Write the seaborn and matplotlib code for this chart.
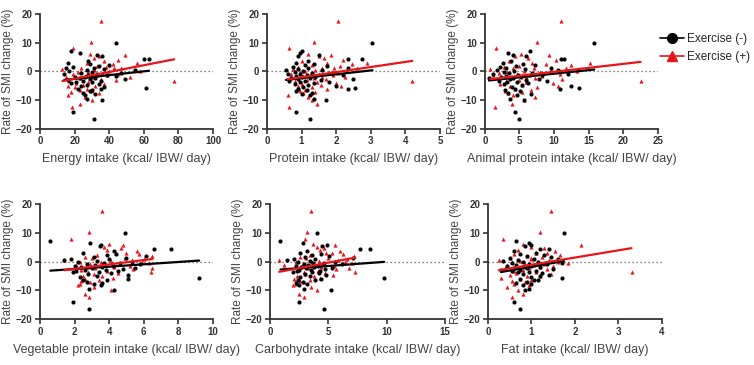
import numpy as np
import pandas as pd
import seaborn as sns
import matplotlib.pyplot as plt
from matplotlib.lines import Line2D

# rate of SMI change (%) per subject, same subjects in every panel
smi_ex_neg = [9.8, 7.2, 6.3, 5.8, 5.5, 4.3, 4.2, 3.5, 3.0, 2.6, 2.2, 1.8, 1.5, 1.2, 1.0, 0.8, 0.5, 0.3, 0.0,
              -0.2, -0.4, -0.6, -0.8, -1.0, -1.2, -1.4, -1.6, -1.8, -2.0, -2.2, -2.4, -2.6, -2.8, -3.0, -3.2,
              -3.4, -3.6, -3.8, -4.0, -4.3, -4.6, -5.0, -5.3, -5.8, -6.0, -6.3, -6.6, -7.0, -7.4, -7.8, -8.2,
              -9.5, -9.9, -14.2, -16.6]
smi_ex_pos = [17.5, 10.3, 8.0, 6.0, 5.7, 5.2, 4.6, 4.0, 3.5, 3.0, 2.8, 2.6, 2.2, 1.9, 1.6, 1.3, 1.1, 1.0, 0.7,
              0.4, 0.2, 0.0, -0.2, -0.3, -0.5, -0.8, -1.0, -1.1, -1.3, -1.6, -1.9, -2.0, -2.1, -2.4, -2.7,
              -3.0, -3.3, -3.5, -3.8, -4.1, -4.4, -4.8, -5.0, -5.2, -5.6, -6.0, -6.4, -6.8, -7.2, -7.7, -8.3,
              -8.8, -10.0, -11.4, -12.5]

# intakes (kcal/ IBW/ day)
energy_neg = [44, 18, 23, 33, 36, 60, 63, 28, 16, 29, 40, 34, 19, 31, 15, 37, 27, 55, 17,
              30, 47, 24, 33, 14, 28, 39, 44, 20, 26, 32, 23, 29, 49, 16, 35,
              25, 30, 21, 18, 34, 27, 24, 37, 61, 22, 35, 30, 29, 25, 32, 26,
              27, 36, 19, 31]
energy_pos = [35.5, 29.5, 19, 29, 49, 34, 31, 45, 37, 56, 27, 42, 40, 33, 38, 47, 24, 43, 13,
              31, 40, 58, 28, 22, 36, 45, 19, 33, 39, 26, 30, 15, 52, 23, 35,
              44, 17, 77.5, 28, 21, 37, 25, 16, 32, 20, 27, 23, 30, 18, 34, 16,
              26, 30, 23, 18.5]
protein_neg = [3.05, 1.0, 0.95, 1.5, 0.9, 2.35, 2.75, 1.2, 0.85, 1.35, 1.1, 1.75, 0.75, 2.35, 1.2, 0.9, 1.6, 0.55, 1.05,
               0.8, 1.3, 1.9, 0.95, 0.6, 1.15, 2.2, 0.85, 1.4, 1.0, 0.7, 1.25, 2.5, 0.9, 1.55, 1.1,
               0.65, 1.8, 0.95, 1.35, 0.8, 1.2, 2.0, 1.05, 2.55, 0.9, 2.35, 1.15, 0.85, 1.3, 1.0, 1.25,
               1.35, 1.7, 0.85, 1.25]
protein_pos = [2.05, 1.35, 0.65, 1.2, 1.85, 1.5, 1.65, 2.2, 1.0, 2.9, 1.75, 2.45, 1.3, 2.1, 0.9, 2.6, 1.6, 1.95, 0.75,
               1.4, 2.3, 1.1, 1.8, 0.95, 2.05, 1.5, 0.7, 1.25, 1.9, 1.05, 1.6, 0.85, 2.25, 1.35, 1.7,
               1.15, 0.8, 4.2, 1.45, 2.0, 1.0, 1.55, 2.15, 0.9, 1.3, 1.75, 1.1, 0.95, 1.4, 1.05, 0.6,
               1.2, 1.3, 1.45, 0.65]
animal_neg = [15.8, 6.5, 3.3, 4.0, 6.0, 11.0, 11.4, 3.8, 2.6, 5.5, 7.2, 4.5, 2.2, 9.5, 3.0, 5.8, 10.6, 1.8, 4.2,
              2.8, 6.8, 3.5, 12.0, 1.2, 4.8, 8.2, 3.1, 5.2, 2.4, 0.6, 4.1, 7.8, 3.6, 5.9, 2.0,
              9.0, 4.6, 3.2, 6.3, 2.7, 5.4, 12.5, 3.9, 13.6, 4.3, 10.9, 2.9, 5.1, 3.4, 6.7, 4.7,
              3.7, 5.6, 4.4, 5.0]
animal_pos = [11.0, 7.5, 1.6, 5.2, 9.2, 4.3, 6.2, 10.3, 3.5, 15.2, 6.8, 8.9, 12.4, 5.0, 2.7, 11.8, 7.1, 4.0, 0.8,
              9.6, 5.6, 13.3, 3.2, 7.9, 2.1, 10.8, 4.6, 6.4, 1.2, 8.3, 3.8, 5.9, 2.4, 7.3, 11.2,
              4.9, 3.0, 22.5, 6.0, 9.8, 2.2, 5.3, 10.5, 3.6, 7.6, 4.4, 6.6, 2.9, 5.4, 3.4, 4.1,
              7.2, 5.7, 3.9, 1.4]
vegetable_neg = [4.9, 0.6, 2.9, 3.5, 3.45, 6.6, 7.6, 4.3, 2.5, 4.4, 3.9, 6.1, 3.1, 5.0, 1.8, 4.0, 1.4, 3.3, 5.3,
                 2.2, 3.7, 4.6, 2.7, 5.8, 3.2, 2.0, 4.2, 3.6, 2.4, 5.5, 3.0, 4.8, 2.6, 3.8, 2.1,
                 4.5, 3.4, 1.9, 4.1, 2.8, 5.1, 3.3, 2.3, 9.2, 5.1, 2.5, 3.9, 2.7, 3.6, 3.1, 3.5,
                 2.85, 4.3, 1.9, 2.85]
vegetable_pos = [3.6, 2.85, 1.8, 4.0, 4.8, 3.7, 4.7, 3.9, 5.6, 5.0, 4.4, 5.7, 3.3, 6.5, 2.6, 4.9, 3.0, 6.0, 1.4,
                 5.3, 4.1, 2.3, 5.9, 3.5, 6.3, 2.9, 4.6, 2.1, 3.8, 5.2, 2.7, 4.3, 6.5, 3.2, 5.4,
                 2.4, 3.9, 6.4, 2.8, 4.5, 3.1, 5.1, 2.5, 3.6, 4.2, 2.6, 3.4, 2.4, 2.9, 2.3, 2.2,
                 3.1, 4.1, 2.6, 2.85]
carb_neg = [4.0, 0.9, 2.8, 4.9, 4.5, 7.7, 8.6, 3.2, 2.6, 4.4, 3.6, 5.1, 3.0, 7.1, 2.1, 3.9, 1.5, 3.4, 5.6,
            2.4, 3.7, 4.6, 2.9, 6.2, 3.3, 2.2, 4.1, 3.8, 2.7, 5.3, 3.1, 4.7, 2.5, 3.5, 2.3,
            4.3, 3.6, 2.0, 4.2, 3.0, 4.8, 3.4, 2.6, 9.8, 4.4, 2.4, 3.9, 2.8, 2.2, 3.2, 2.5,
            2.9, 5.2, 2.5, 4.6]
carb_pos = [3.5, 3.2, 3.0, 3.7, 5.6, 4.0, 4.6, 4.3, 6.0, 5.3, 4.8, 6.3, 3.4, 7.2, 2.6, 5.0, 3.1, 6.6, 0.8,
            5.8, 4.2, 2.2, 6.4, 3.6, 7.0, 2.8, 4.5, 1.2, 3.9, 5.5, 2.7, 4.4, 6.8, 3.3, 5.7,
            2.4, 4.1, 7.3, 2.9, 4.7, 3.0, 5.4, 2.3, 3.8, 4.3, 2.1, 3.4, 2.6, 2.9, 2.2, 2.0,
            3.5, 4.0, 2.5, 2.9]
fat_neg = [1.75, 0.65, 0.95, 1.0, 0.85, 1.4, 1.2, 0.6, 1.1, 0.75, 1.3, 0.9, 1.45, 0.5, 1.05, 1.6, 0.7, 0.35, 1.15,
           0.8, 1.7, 0.55, 0.95, 1.35, 0.65, 1.0, 0.45, 0.85, 1.2, 0.6, 0.9, 1.5, 0.3, 0.75, 1.1,
           0.55, 0.95, 0.7, 1.25, 0.8, 1.4, 1.2, 1.0, 1.7, 0.75, 1.05, 1.15, 0.9, 0.65, 1.0, 0.8,
           0.95, 0.85, 0.6, 0.75]
fat_pos = [1.45, 1.2, 0.35, 0.8, 2.15, 1.0, 1.3, 0.7, 1.55, 1.1, 1.35, 0.6, 1.65, 0.9, 1.25, 0.5, 1.0, 1.0, 0.25,
           1.4, 0.75, 1.6, 1.15, 0.55, 1.85, 0.85, 1.3, 0.45, 1.05, 1.5, 0.7, 1.2, 0.95, 0.4, 1.35,
           0.8, 0.6, 3.3, 1.1, 0.65, 1.45, 0.5, 0.9, 1.2, 0.3, 0.75, 1.0, 0.55, 0.85, 0.6, 0.95,
           0.45, 0.7, 0.8, 0.55]

panels = [
    ("Energy intake (kcal/ IBW/ day)", energy_neg, energy_pos, [0, 20, 40, 60, 80, 100]),
    ("Protein intake (kcal/ IBW/ day)", protein_neg, protein_pos, [0, 1, 2, 3, 4, 5]),
    ("Animal protein intake (kcal/ IBW/ day)", animal_neg, animal_pos, [0, 5, 10, 15, 20, 25]),
    ("Vegetable protein intake (kcal/ IBW/ day)", vegetable_neg, vegetable_pos, [0, 2, 4, 6, 8, 10]),
    ("Carbohydrate intake (kcal/ IBW/ day)", carb_neg, carb_pos, [0, 5, 10, 15]),
    ("Fat intake (kcal/ IBW/ day)", fat_neg, fat_pos, [0, 1, 2, 3, 4]),
]

sns.set_style("ticks")
plt.rcParams['font.family'] = ['Liberation Sans', 'DejaVu Sans']

fig = plt.figure(figsize=(7.54, 3.65), dpi=100)

# axes boxes in figure fractions
boxes = [(0.053, 0.647, 0.2295, 0.315), (0.354, 0.647, 0.2295, 0.315), (0.643, 0.647, 0.2295, 0.315),
         (0.053, 0.126, 0.2295, 0.315), (0.358, 0.126, 0.232, 0.315), (0.647, 0.126, 0.231, 0.315)]

for (xlabel, x_neg, x_pos, xticks), box in zip(panels, boxes):
    ax = fig.add_axes(box)
    d_neg = pd.DataFrame({"x": x_neg, "y": smi_ex_neg})
    d_pos = pd.DataFrame({"x": x_pos, "y": smi_ex_pos})

    ax.axhline(0, color="#555555", lw=0.9, ls=(0, (1, 2.2)), zorder=1)
    sns.scatterplot(data=d_pos, x="x", y="y", ax=ax, color="#e8141b", marker="^", s=9,
                    linewidth=0, zorder=3)
    sns.scatterplot(data=d_neg, x="x", y="y", ax=ax, color="black", marker="o", s=9,
                    linewidth=0, zorder=3)
    sns.regplot(data=d_neg, x="x", y="y", ax=ax, scatter=False, ci=None, truncate=True,
                line_kws=dict(color="black", lw=1.6, zorder=4))
    sns.regplot(data=d_pos, x="x", y="y", ax=ax, scatter=False, ci=None, truncate=True,
                line_kws=dict(color="#e8141b", lw=1.6, zorder=5))

    ax.set_xlim(xticks[0], xticks[-1])
    ax.set_ylim(-20, 20)
    ax.set_xticks(xticks)
    ax.set_yticks([-20, -10, 0, 10, 20])
    sns.despine(ax=ax)
    for sp in ["left", "bottom"]:
        ax.spines[sp].set_linewidth(1.3)
        ax.spines[sp].set_color("#333333")
    ax.tick_params(length=3.5, width=1.2, color="#333333", labelsize=7, pad=2)
    for lab in ax.get_xticklabels() + ax.get_yticklabels():
        lab.set_fontweight("bold")
        lab.set_color("#333333")
    ax.set_xlabel(xlabel, fontsize=9, color="#444444", labelpad=5)
    ax.set_ylabel("Rate of SMI change (%)", fontsize=8.5, color="#444444", labelpad=1)

handles = [Line2D([0], [0], color="black", marker="o", markersize=7, lw=1.2, label="Exercise (-)"),
           Line2D([0], [0], color="#e8141b", marker="^", markersize=7, lw=1.2, label="Exercise (+)")]
fig.legend(handles=handles, loc="upper left", bbox_to_anchor=(0.868, 0.925), frameon=False,
           fontsize=8.5, handlelength=2.0, handletextpad=0.25, labelspacing=0.5, borderpad=0)

fig.savefig("out.png", dpi=100)
